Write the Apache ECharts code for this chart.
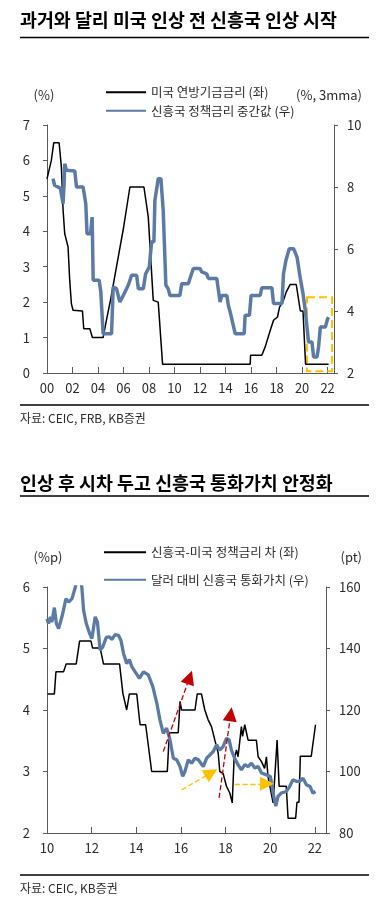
<!DOCTYPE html>
<html><head><meta charset="utf-8">
<script src="https://cdn.jsdelivr.net/npm/echarts@6/dist/echarts.min.js"></script>
<style>html,body{margin:0;padding:0;background:#fff}#c{width:389px;height:905px}</style>
</head><body><div id="c"></div>
<script>
// ---------- Chart 1 data (x = years since 2000) ----------
const usFedRate = [[0,5.48],[0.34,6.0],[0.53,6.5],[0.95,6.5],[1.13,5.8],[1.26,4.6],[1.39,3.93],[1.65,3.56],[1.78,2.62],[1.91,1.96],[2.04,1.77],[2.78,1.75],[2.88,1.25],[3.36,1.25],[3.56,1.0],[4.4,1.0],[4.66,1.49],[5.0,2.1],[5.45,3.0],[6.0,4.1],[6.5,5.25],[7.6,5.25],[7.94,4.4],[8.33,2.05],[8.72,2.0],[9.06,0.25],[15.93,0.25],[15.96,0.5],[16.84,0.5],[17.1,0.73],[17.5,1.2],[17.76,1.49],[18.07,1.58],[18.23,1.86],[18.54,2.05],[18.76,2.29],[19.07,2.5],[19.54,2.5],[19.86,1.75],[20.07,1.75],[20.27,0.25],[22.08,0.25]];
const emPolicyRate = [[0.47,8.27],[0.6,8.05],[0.87,8.0],[1.05,7.95],[1.26,7.46],[1.34,8.1],[1.39,8.75],[1.52,8.54],[1.65,8.52],[2.18,8.52],[2.31,8.0],[2.83,8.0],[3.04,7.46],[3.14,6.49],[3.41,6.49],[3.54,7.03],[3.62,4.99],[4.09,4.99],[4.22,4.61],[4.4,3.27],[5.06,3.27],[5.19,4.77],[5.45,4.72],[5.71,4.29],[5.98,4.5],[6.37,4.83],[6.63,5.15],[7.03,5.15],[7.16,4.72],[7.55,4.72],[7.73,5.2],[8.02,5.42],[8.2,6.23],[8.38,6.23],[8.46,7.57],[8.72,8.27],[8.93,8.27],[9.11,7.25],[9.32,4.83],[9.5,4.72],[9.64,4.5],[10.42,4.5],[10.56,4.88],[11.08,4.88],[11.21,5.05],[11.47,5.37],[12.0,5.37],[12.13,5.26],[12.52,5.2],[12.65,5.05],[13.31,5.05],[13.44,4.67],[13.57,4.29],[13.7,4.5],[14.1,4.5],[14.22,4.18],[14.36,3.97],[14.75,3.27],[15.46,3.27],[15.53,3.86],[15.87,3.86],[16.0,4.5],[16.71,4.5],[16.84,4.75],[17.63,4.75],[17.76,4.24],[18.42,4.24],[18.54,5.2],[18.73,5.63],[18.99,6.01],[19.33,6.01],[19.6,5.74],[19.86,5.05],[20.07,4.56],[20.25,4.02],[20.38,3.48],[20.51,3.0],[20.77,3.0],[20.9,2.52],[21.17,2.52],[21.29,2.84],[21.43,3.48],[21.82,3.48],[22.0,3.75],[22.08,3.8]];
const highlightBox = [[20.38,2.14],[22.35,0.05]];

// ---------- Chart 2 data (x = years since 2000) ----------
const rateSpread = [[10.03,4.26],[10.33,4.26],[10.4,4.62],[10.74,4.62],[10.86,4.75],[11.31,4.75],[11.46,5.12],[11.97,5.12],[12.04,5.01],[12.38,5.01],[12.53,4.75],[13.25,4.75],[13.4,4.27],[13.57,4.0],[13.69,4.26],[14.02,4.26],[14.17,3.76],[14.42,3.76],[14.69,3.0],[15.39,3.0],[15.48,3.63],[15.88,3.63],[15.96,4.14],[16.03,4.0],[16.63,4.0],[16.73,4.26],[16.92,4.26],[17.07,4.0],[17.22,3.84],[17.37,3.73],[17.52,3.51],[17.67,3.3],[17.74,3.0],[17.89,2.97],[18.04,2.76],[18.19,2.65],[18.3,2.49],[18.38,3.19],[18.49,3.35],[18.56,3.24],[18.71,3.73],[18.76,3.57],[18.86,3.76],[19.01,3.51],[19.38,3.51],[19.46,3.24],[19.61,3.16],[19.75,3.05],[19.83,3.24],[19.9,2.92],[20.13,2.49],[20.31,3.51],[20.4,2.76],[20.72,2.76],[20.8,2.24],[21.14,2.24],[21.2,2.5],[21.29,2.5],[21.35,3.25],[21.84,3.25],[22.03,3.76]];
const emCurrency = [[10.0,149.7],[10.07,148.1],[10.15,150.3],[10.22,148.6],[10.33,153.3],[10.42,148.1],[10.52,146.5],[10.67,150.3],[10.85,156.2],[10.97,155.1],[11.12,156.2],[11.27,160],[11.34,162],[11.5,163],[11.56,160],[11.64,152.4],[11.76,148.1],[11.91,144.9],[12.01,143.2],[12.16,150.3],[12.26,148.6],[12.38,139.5],[12.5,140.5],[12.65,143.6],[12.8,143.8],[12.9,142.9],[13.05,144.5],[13.2,144.3],[13.31,142.7],[13.43,138.4],[13.57,135.1],[13.69,136.4],[13.8,134.1],[13.95,132.4],[14.14,130.3],[14.32,132.4],[14.54,131.4],[14.74,127.6],[14.92,122.2],[15.06,116.8],[15.21,112.4],[15.36,114.1],[15.51,110.3],[15.66,104.3],[15.81,103.8],[15.96,101.6],[16.08,98.4],[16.18,100],[16.33,103.8],[16.48,102.7],[16.63,104.3],[16.78,103.8],[16.85,104.3],[17.0,101.6],[17.15,104.3],[17.3,105.4],[17.45,106.5],[17.6,108.7],[17.74,107],[17.89,108.1],[18.04,110.8],[18.16,110.3],[18.26,107],[18.41,104.3],[18.56,102.2],[18.71,100.5],[18.86,102.2],[19.01,101.6],[19.16,102.7],[19.31,101.1],[19.46,101.6],[19.61,99.5],[19.83,98.9],[20.01,98.4],[20.13,93],[20.25,88.7],[20.35,91.9],[20.5,93],[20.72,93.5],[20.87,95.1],[21.02,97.3],[21.17,96.8],[21.32,96.8],[21.47,97.8],[21.62,95.7],[21.79,95.1],[21.91,93],[22.03,93.5]];
const redArrows = [[[15.21,3.325],[16.39,4.53]],[[17.71,2.57],[18.23,3.93]]];
const yellowArrows = [[[16.03,2.70],[17.36,2.98]],[[18.41,2.80],[19.86,2.80]]];

const names1 = ['미국 연방기금금리 (좌)','신흥국 정책금리 중간값 (우)'];
const names2 = ['신흥국-미국 정책금리 차 (좌)','달러 대비 신흥국 통화가치 (우)'];

const FONT = '"Noto Sans CJK KR","Noto Sans",sans-serif';
const AX = '#595959';
const TXT = '#2b2b2b';
const BLUE = '#5b7ba6';
const YEL = '#FFC000';
const RED = '#C00000';

const yr = v => (Math.abs(v - Math.round(v)) < 1e-6 ? String(Math.round(v)).padStart(2,'0') : '');

function xAx(gi, min){
  return {gridIndex:gi,type:'value',min:min,max:22.5,interval:2,
    splitLine:{show:false},
    axisLine:{onZero:false,lineStyle:{color:AX,width:1}},
    axisTick:{inside:true,length:6,lineStyle:{color:AX}},
    axisLabel:{formatter:yr,color:TXT,fontSize:13,margin:9,fontFamily:FONT}};
}
function yAx(gi,min,max,iv,pos,margin){
  return {gridIndex:gi,type:'value',min:min,max:max,interval:iv,position:pos,
    splitLine:{show:false},
    axisLine:{show:true,lineStyle:{color:AX,width:1}},
    axisTick:{show:true,length:4,lineStyle:{color:AX}},
    axisLabel:{color:TXT,fontSize:13,margin:margin,fontFamily:FONT}};
}
const txt = (x,y,s,opt={}) => ({type:'text',x:x,y:y,silent:true,
  style:Object.assign({text:s,fill:TXT,font:'12px '+FONT,textVerticalAlign:'middle',textAlign:'left'},opt)});
const hline = (y) => ({type:'line',silent:true,shape:{x1:20,y1:y,x2:369,y2:y},style:{stroke:'#000',lineWidth:1.3}});

const legendBase = {orient:'vertical',itemHeight:14,itemStyle:{opacity:0},
  textStyle:{fontSize:12.5,color:TXT,fontFamily:FONT}};

const chart = echarts.init(document.getElementById('c'));
chart.setOption({
  animation:false,
  textStyle:{fontFamily:FONT},
  grid:[{left:47,right:55,top:125,height:248},{left:47,right:63,top:587,height:246}],
  xAxis:[xAx(0,0),xAx(1,10)],
  yAxis:[yAx(0,0,7,1,'left',17),yAx(0,2,10,2,'right',13),yAx(1,2,6,1,'left',17),yAx(1,80,160,20,'right',13)],
  legend:[
    Object.assign({},legendBase,{data:names1,left:100,top:81,itemWidth:40,itemGap:6}),
    Object.assign({},legendBase,{data:names2,left:98,top:541,itemWidth:42,itemGap:15})
  ],
  series:[
    {name:names1[0],type:'line',xAxisIndex:0,yAxisIndex:0,data:usFedRate,symbol:'none',
     lineStyle:{color:'#000',width:1.5},itemStyle:{color:'#000'},
     markArea:{silent:true,label:{show:false},
       itemStyle:{color:'rgba(0,0,0,0)',borderColor:YEL,borderWidth:2,borderType:'dashed'},
       data:[[{coord:highlightBox[0]},{coord:highlightBox[1]}]]}},
    {name:names1[1],type:'line',xAxisIndex:0,yAxisIndex:1,data:emPolicyRate,symbol:'none',
     lineStyle:{color:BLUE,width:3.5},itemStyle:{color:BLUE}},
    {name:names2[0],type:'line',xAxisIndex:1,yAxisIndex:2,data:rateSpread,symbol:'none',
     lineStyle:{color:'#000',width:1.5},itemStyle:{color:'#000'},
     markLine:{silent:true,animation:false,symbol:['none','triangle'],symbolSize:14,
       label:{show:false},
       data:[].concat(
         redArrows.map(a=>[{coord:a[0],lineStyle:{color:RED,type:'dashed',width:1.3}},{coord:a[1]}]),
         yellowArrows.map(a=>[{coord:a[0],lineStyle:{color:YEL,type:'dashed',width:1.3}},{coord:a[1]}])
       )}},
    {name:names2[1],type:'line',xAxisIndex:1,yAxisIndex:3,data:emCurrency,symbol:'none',
     lineStyle:{color:BLUE,width:3.3},itemStyle:{color:BLUE}}
  ],
  graphic:[
    txt(20,20,'과거와 달리 미국 인상 전 신흥국 인상 시작',{fill:'#000',font:'bold 18.4px '+FONT}),
    hline(37.5),
    txt(44,95,'(%)',{font:'13px '+FONT,textAlign:'center'}),
    txt(362,95,'(%, 3mma)',{font:'13px '+FONT,textAlign:'right'}),
    hline(405),
    txt(20,418,'자료: CEIC, FRB, KB증권',{font:'12px '+FONT}),
    txt(20,483,'인상 후 시차 두고 신흥국 통화가치 안정화',{fill:'#000',font:'bold 18.4px '+FONT}),
    hline(496),
    txt(48,557,'(%p)',{font:'13px '+FONT,textAlign:'center'}),
    txt(362,557,'(pt)',{font:'13px '+FONT,textAlign:'right'}),
    hline(875),
    txt(20,888,'자료: CEIC, KB증권',{font:'12px '+FONT})
  ]
});
</script></body></html>
